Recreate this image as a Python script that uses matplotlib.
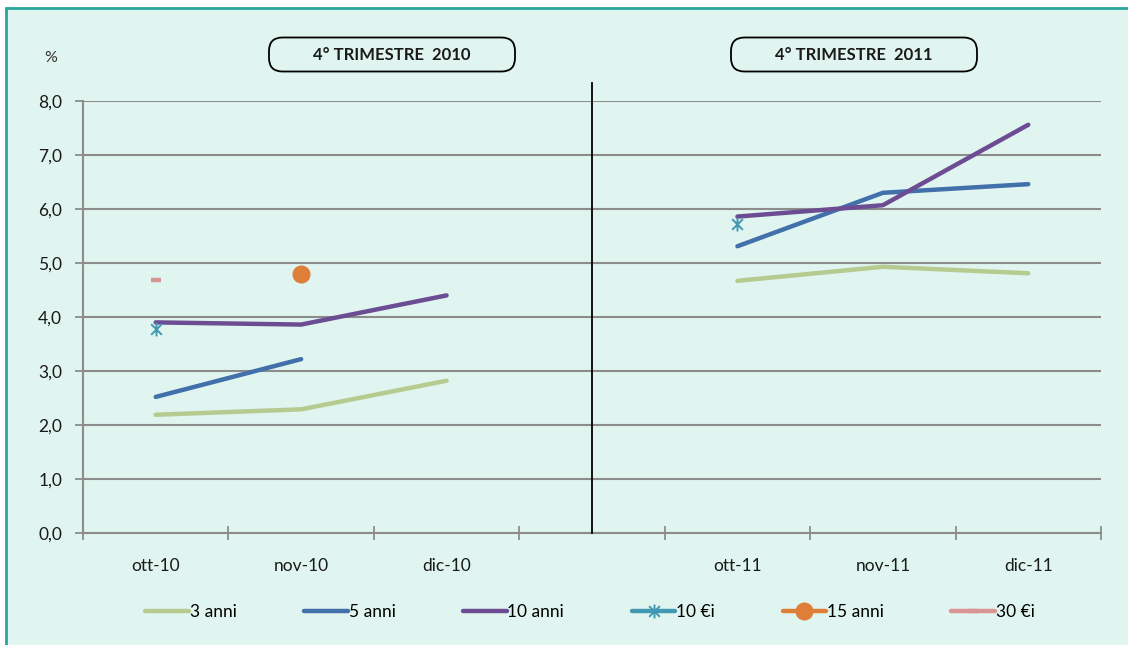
import numpy as np
import matplotlib
matplotlib.use("Agg")
from matplotlib import pyplot as plt
from matplotlib.patches import FancyBboxPatch, Rectangle
from matplotlib.path import Path
from matplotlib.ticker import FuncFormatter, FixedLocator

nan = np.nan

# categories (the empty slot separates the two quarters)
months = ['ott-10', 'nov-10', 'dic-10', '', 'ott-11', 'nov-11', 'dic-11']
periods = ['4° TRIMESTRE  2010', '4° TRIMESTRE  2011']

anni3 = [2.19, 2.29, 2.82, nan, 4.67, 4.93, 4.81]
anni5 = [2.52, 3.22, nan, nan, 5.31, 6.30, 6.46]
anni10 = [3.90, 3.86, 4.40, nan, 5.86, 6.07, 7.56]
ei10 = [3.77, nan, nan, nan, 5.73, nan, nan]
anni15 = [nan, 4.79, nan, nan, nan, nan, nan]
ei30 = [4.68, nan, nan, nan, nan, nan, nan]

plt.rcParams['font.family'] = ['Lato', 'DejaVu Sans']

W, H = 1128, 645
fig = plt.figure(figsize=(W / 100, H / 100), dpi=100)
fig.patch.set_facecolor('white')

bg = '#e0f5ef'
# chart area is cropped on the right and bottom, so push the frame past the edges
fig.patches.append(Rectangle((6 / W, -0.1), 1.1, 1.1 - 8 / H, transform=fig.transFigure,
                             facecolor=bg, edgecolor='#2aa59c', lw=2, zorder=-10))

ax = fig.add_axes([83 / W, 1 - 533 / H, (1101 - 83) / W, (533 - 101) / H])
ax.set_facecolor('none')
x = np.arange(len(months))

# excel style star: an x with a vertical bar
star = Path([(-1, -1), (1, 1), (-1, 1), (1, -1), (0, -1.3), (0, 1.3)],
            [Path.MOVETO, Path.LINETO, Path.MOVETO, Path.LINETO, Path.MOVETO, Path.LINETO])

ax.plot(x, anni3, color='#b6cb90', lw=3.2, solid_capstyle='round', label='3 anni', zorder=3)
ax.plot(x, anni5, color='#4170aa', lw=3.2, solid_capstyle='round', label='5 anni', zorder=4)
ax.plot(x, anni10, color='#6c4c92', lw=3.2, solid_capstyle='round', label='10 anni', zorder=5)
ax.plot(x, ei10, color='#4199b1', lw=3.2, solid_capstyle='round', marker=star,
        markersize=10, markeredgewidth=1.4, label='10 €i', zorder=6)
ax.plot(x, anni15, color='#de7e39', lw=3.2, solid_capstyle='round', marker='o',
        markersize=12, label='15 anni', zorder=6)
ax.plot(x, ei30, color='#d99493', lw=3.2, solid_capstyle='round', marker='_',
        markersize=6.5, markeredgewidth=3.2, label='30 €i', zorder=6)

ax.set_ylim(0, 8)
ax.set_xlim(-0.5, len(months) - 0.5)
ax.set_yticks(np.arange(0, 9, 1))
ax.yaxis.set_major_formatter(FuncFormatter(lambda v, p: f'{v:.1f}'.replace('.', ',')))
ax.grid(axis='y', color='#8c8c8c', lw=1.5, zorder=0)

# category boundaries as ticks, labels at centres
bounds = [b for b in np.arange(-0.5, len(months), 1.0)]
ax.xaxis.set_major_locator(FixedLocator(bounds))
ax.xaxis.set_major_formatter(FuncFormatter(lambda v, p: ''))
ax.set_xticks(x, minor=True)
ax.set_xticklabels(months, minor=True)
ax.tick_params(axis='x', which='major', direction='inout', length=10, width=1.3, color='#8c8c8c')
ax.tick_params(axis='x', which='minor', length=0, pad=18, labelsize=12.5, labelcolor='#1a1a1a')
ax.tick_params(axis='y', direction='out', length=6, width=1.3, color='#8c8c8c',
               labelsize=12.5, labelcolor='#1a1a1a', pad=9)

for s in ['top', 'right']:
    ax.spines[s].set_visible(False)
for s in ['left', 'bottom']:
    ax.spines[s].set_color('#8c8c8c')
    ax.spines[s].set_linewidth(1.5)

# divider between the quarters
ax.axvline(3, ymin=0, ymax=1.042, color='black', lw=1.3, clip_on=False, zorder=7)

fig.text(51 / W, 1 - 58 / H, '%', ha='center', va='center', fontsize=11.5, color='#333333')

for cx, lab in zip([392, 854], periods):
    bw, bh = 246, 34
    fig.patches.append(FancyBboxPatch(((cx - bw / 2) / W, 1 - (54.5 + bh / 2) / H), bw / W, bh / H,
                                      boxstyle='round,pad=0,rounding_size=0.012',
                                      transform=fig.transFigure, facecolor='none',
                                      edgecolor='black', lw=1.3, mutation_aspect=W / H))
    fig.text(cx / W, 1 - 54.5 / H, lab, ha='center', va='center', fontsize=12,
             fontweight='bold', color='#1a1a1a')

leg = fig.legend(*ax.get_legend_handles_labels(), loc='center', ncol=6,
                 bbox_to_anchor=(590 / W, 1 - 612 / H), frameon=False, fontsize=12.5,
                 handlelength=2.5, handletextpad=0.05, columnspacing=3.9)

fig.savefig('out.png', dpi=100, facecolor='white')
